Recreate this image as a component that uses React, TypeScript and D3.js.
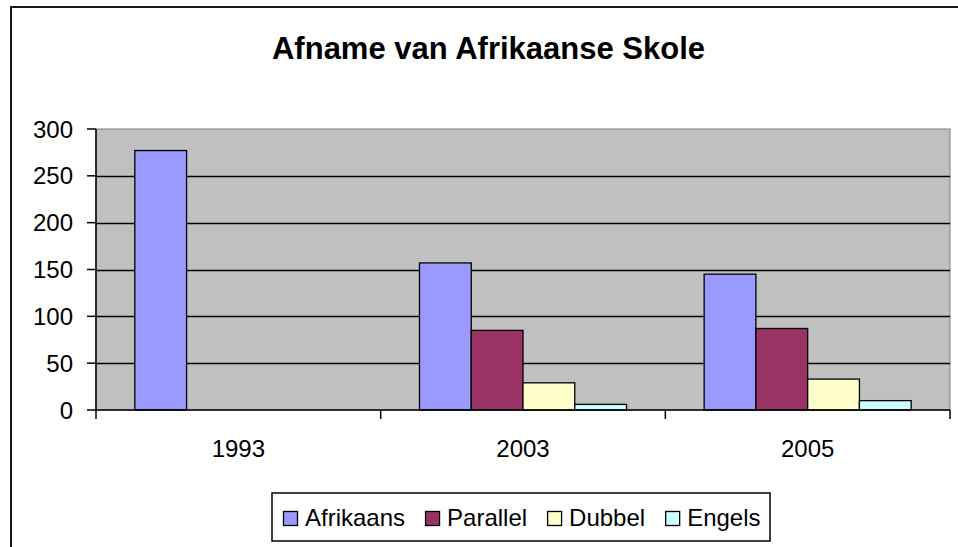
import * as React from 'react';
import * as d3 from 'd3';

const categories = ['1993', '2003', '2005'];
const seriesNames = ['Afrikaans', 'Parallel', 'Dubbel', 'Engels'];
const seriesColors = ['#9999FF', '#993366', '#FFFFCC', '#CCFFFF'];
const afrikaans = [277, 157, 145];
const parallel = [0, 85, 87];
const dubbel = [0, 29, 33];
const engels = [0, 6, 10];
const yTicks = [0, 50, 100, 150, 200, 250, 300];
const title = 'Afname van Afrikaanse Skole';

const W = 958;
const H = 547;
const FONT = '"Liberation Sans", Arial, sans-serif';

export default function App() {
  const svg_root = React.useRef<SVGSVGElement>(null);

  React.useEffect(() => {
    const svg = d3.select(svg_root.current);
    svg.selectAll('*').remove();

    const values = [afrikaans, parallel, dubbel, engels];
    const plot = { left: 96, right: 950, top: 129, bottom: 410 };

    const x = d3.scaleBand<string>()
      .domain(categories)
      .range([plot.left, plot.right]);
    // excel style: 4 bars + 150% gap
    const barW = x.bandwidth() / 5.5;
    const y = d3.scaleLinear().domain([0, 300]).range([plot.bottom, plot.top]);

    // outer chart frame (runs off right/bottom edge)
    svg.append('rect')
      .attr('x', 11).attr('y', 7)
      .attr('width', 955).attr('height', 560)
      .attr('fill', '#fff').attr('stroke', '#000').attr('stroke-width', 1.8);

    svg.append('text')
      .attr('x', 488.5).attr('y', 59)
      .attr('text-anchor', 'middle')
      .attr('font-family', FONT).attr('font-weight', 'bold').attr('font-size', 31)
      .text(title);

    // plot area
    svg.append('rect')
      .attr('x', plot.left).attr('y', plot.top)
      .attr('width', plot.right - plot.left).attr('height', plot.bottom - plot.top)
      .attr('fill', '#C0C0C0').attr('stroke', '#808080').attr('stroke-width', 1);

    svg.append('g').selectAll('line')
      .data(yTicks.filter(d => d > 0 && d < 300))
      .enter().append('line')
      .attr('x1', plot.left).attr('x2', plot.right)
      .attr('y1', d => Math.round(y(d)) + 0.5).attr('y2', d => Math.round(y(d)) + 0.5)
      .attr('stroke', '#000').attr('stroke-width', 1.4);

    // bars
    values.forEach((ser, si) => {
      svg.append('g').selectAll('rect')
        .data(ser.map((v, ci) => ({ v, c: categories[ci] })).filter(d => d.v > 0))
        .enter().append('rect')
        .attr('x', d => (x(d.c) as number) + barW * 0.75 + si * barW)
        .attr('y', d => y(d.v))
        .attr('width', barW)
        .attr('height', d => y(0) - y(d.v))
        .attr('fill', seriesColors[si])
        .attr('stroke', '#000').attr('stroke-width', 1.3);
    });

    // axes
    const axis = svg.append('g').attr('stroke', '#000').attr('stroke-width', 1.5);
    axis.append('line')
      .attr('x1', plot.left).attr('x2', plot.left)
      .attr('y1', plot.top).attr('y2', plot.bottom);
    axis.append('line')
      .attr('x1', plot.left).attr('x2', plot.right)
      .attr('y1', plot.bottom).attr('y2', plot.bottom);
    axis.selectAll('line.yt')
      .data(yTicks).enter().append('line')
      .attr('class', 'yt')
      .attr('x1', plot.left - 9).attr('x2', plot.left)
      .attr('y1', d => y(d)).attr('y2', d => y(d));
    const bounds = categories.map(c => x(c) as number).concat([plot.right]);
    axis.selectAll('line.xt')
      .data(bounds).enter().append('line')
      .attr('class', 'xt')
      .attr('x1', d => d).attr('x2', d => d)
      .attr('y1', plot.bottom).attr('y2', plot.bottom + 9);

    svg.append('g').selectAll('text')
      .data(yTicks).enter().append('text')
      .attr('x', 73).attr('y', d => y(d) + 8.5)
      .attr('text-anchor', 'end')
      .attr('font-family', FONT).attr('font-size', 24)
      .text(d => d);

    svg.append('g').selectAll('text')
      .data(categories).enter().append('text')
      .attr('x', d => (x(d) as number) + x.bandwidth() / 2)
      .attr('y', 457)
      .attr('text-anchor', 'middle')
      .attr('font-family', FONT).attr('font-size', 24)
      .text(d => d);

    // legend
    svg.append('rect')
      .attr('x', 272).attr('y', 493)
      .attr('width', 498).attr('height', 48)
      .attr('fill', '#fff').attr('stroke', '#000').attr('stroke-width', 1.5);
    let lx = 283;
    seriesNames.forEach((name, i) => {
      svg.append('rect')
        .attr('x', lx + 0.5).attr('y', 511.5)
        .attr('width', 14).attr('height', 14)
        .attr('fill', seriesColors[i]).attr('stroke', '#000').attr('stroke-width', 1.3);
      const t = svg.append('text')
        .attr('x', lx + 22).attr('y', 526)
        .attr('font-family', FONT).attr('font-size', 24)
        .text(name);
      const tw = (t.node() as SVGTextElement).getComputedTextLength();
      lx += 22 + tw + 20;
    });
  }, []);

  return (
    <div style={{ position: 'absolute', left: 0, top: 0 }}>
      <svg ref={svg_root} width={W} height={H} style={{ display: 'block' }} />
    </div>
  );
}
